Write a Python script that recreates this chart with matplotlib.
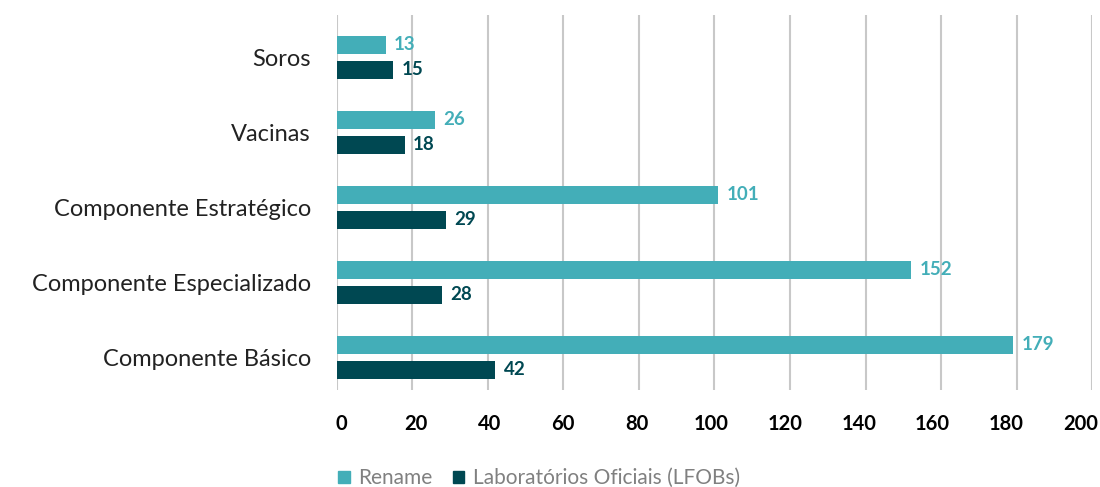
import matplotlib

matplotlib.use("Agg")
import matplotlib.pyplot as plt
import numpy as np
from matplotlib.patches import Patch
from matplotlib.transforms import ScaledTranslation

categories = ["Componente Básico", "Componente Especializado", "Componente Estratégico", "Vacinas", "Soros"]
rename = [179, 152, 101, 26, 13]
lfobs = [42, 28, 29, 18, 15]
series_names = ["Rename", "Laboratórios Oficiais (LFOBs)"]
x_ticks = list(range(0, 201, 20))

TEAL = "#43AEB8"
DARK = "#004852"
FONT = ["Lato", "DejaVu Sans"]

plt.rcParams["font.family"] = FONT

fig = plt.figure(figsize=(11, 4.87), dpi=100)
ax = fig.add_axes([0.306, 0.199, 0.687, 0.770])

y = np.arange(len(categories))
off = 0.167
h = 0.24

ax.barh(y + off, rename, height=h, color=TEAL, zorder=3)
ax.barh(y - off, lfobs, height=h, color=DARK, zorder=3)

for yi, v in zip(y, rename):
    ax.text(v + 2.2, yi + off, str(v), va="center", ha="left", color=TEAL,
            fontsize=13.5, fontweight="bold")
for yi, v in zip(y, lfobs):
    ax.text(v + 2.2, yi - off, str(v), va="center", ha="left", color=DARK,
            fontsize=13.5, fontweight="bold")

ax.set_xlim(0, 200)
ax.set_ylim(-0.44, 4.56)
ax.set_xticks(x_ticks)
ax.set_xticklabels([str(t) for t in x_ticks], fontsize=14.5, fontweight="bold")
ax.set_yticks(y)
ax.set_yticklabels(categories, fontsize=17, color="#222222")
ax.tick_params(axis="both", length=0)
ax.tick_params(axis="x", pad=17)
ax.tick_params(axis="y", pad=18.5)
ax.grid(axis="x", color="#C8C8C8", linewidth=1.5, zorder=0)
for s in ax.spines.values():
    s.set_visible(False)

# tick labels in the original drift slightly left of their gridlines
for lab, t in zip(ax.get_xticklabels(), x_ticks):
    shift = (5 - 0.085 * t) / 100.0
    lab.set_transform(lab.get_transform() + ScaledTranslation(shift, 0, fig.dpi_scale_trans))

handles = [Patch(color=TEAL), Patch(color=DARK)]
fig.legend(handles, series_names, loc="center", bbox_to_anchor=(0.49, 0.018),
           ncol=2, frameon=False, fontsize=15, labelcolor="#808080",
           handlelength=0.55, handleheight=0.55, handletextpad=0.4, columnspacing=1.0)

fig.savefig("out.png", dpi=100)
